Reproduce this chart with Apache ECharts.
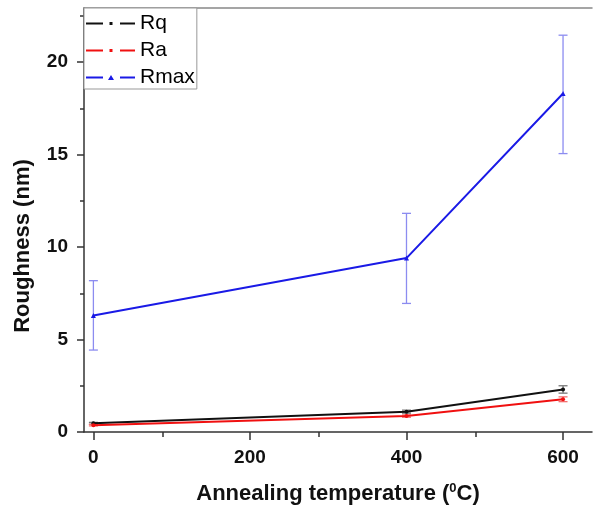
<!DOCTYPE html>
<html>
<head>
<meta charset="utf-8">
<script src="https://cdn.jsdelivr.net/npm/echarts@6/dist/echarts.min.js"></script>
<style>
html, body { margin: 0; padding: 0; background: #fff; }
#chart { width: 593px; height: 511px; }
</style>
</head>
<body>
<div id="chart"></div>
<script>
// data
var temps = [0, 400, 600];
var rq = [0.47, 1.1, 2.3];
var rqErr = [0.05, 0.08, 0.2];
var ra = [0.37, 0.86, 1.77];
var raErr = [0.04, 0.06, 0.13];
var rmax = [6.3, 9.4, 18.3];
var rmaxLow = [4.43, 6.95, 15.05];
var rmaxHigh = [8.18, 11.82, 21.45];
var xTicks = [0, 200, 400, 600];
var yTicks = [0, 5, 10, 15, 20];

var FONT = 'Liberation Sans, Arial, sans-serif';
// dash - dot - dash legend icons (invisible corner moves keep the box at 49x8)
var iconDot = 'path://M0,0M49,8M0,3h17v2H0z M23.5,2.5h3v3h-3z M34,3h15v2H34z';
var iconTri = 'path://M0,0M49,8M0,3h17v2H0z M25,1.5L28,6.5H22z M34,3h15v2H34z';

function pairs(xs, ys){
	var out = [];
	for (var i = 0; i < xs.length; i++) out.push([xs[i], ys[i]]);
	return out;
}

function errData(xs, lo, hi){
	var out = [];
	for (var i = 0; i < xs.length; i++) out.push([xs[i], lo[i], hi[i]]);
	return out;
}

function symLow(ys, e){ return ys.map(function(v, i){ return v - e[i]; }); }
function symHigh(ys, e){ return ys.map(function(v, i){ return v + e[i]; }); }

function errorSeries(name, data, color){
	return {
		name: name,
		type: 'custom',
		silent: true,
		z: 1,
		data: data,
		encode: { x: 0, y: [1, 2] },
		renderItem: function(params, api){
			var x = api.value(0);
			var lo = api.coord([x, api.value(1)]);
			var hi = api.coord([x, api.value(2)]);
			var w = 4.5;
			var st = { stroke: color, lineWidth: 1.3 };
			return {
				type: 'group',
				children: [
					{ type: 'line', shape: { x1: lo[0], y1: lo[1], x2: hi[0], y2: hi[1] }, style: st },
					{ type: 'line', shape: { x1: lo[0] - w, y1: lo[1], x2: lo[0] + w, y2: lo[1] }, style: st },
					{ type: 'line', shape: { x1: hi[0] - w, y1: hi[1], x2: hi[0] + w, y2: hi[1] }, style: st }
				]
			};
		}
	};
}

var chart = echarts.init(document.getElementById('chart'));
var option = {
	animation: false,
	textStyle: { fontFamily: FONT },
	grid: { left: 84, right: 1, top: 8, bottom: 79 },
	legend: {
		orient: 'vertical',
		left: 84,
		top: 8,
		data: [
			{ name: 'Rq', icon: iconDot },
			{ name: 'Ra', icon: iconDot },
			{ name: 'Rmax', icon: iconTri }
		],
		itemWidth: 49,
		itemHeight: 8,
		itemGap: 6,
		padding: [5, 2, 1, 2],
		borderColor: '#999',
		borderWidth: 1,
		borderRadius: 0,
		backgroundColor: '#fff',
		textStyle: { fontSize: 21, lineHeight: 20, color: '#000', fontFamily: FONT }
	},
	xAxis: [
		{
			type: 'value',
			min: -12,
			max: 637,
			interval: 200,
			splitLine: { show: false },
			axisLine: { onZero: false, lineStyle: { color: '#333', width: 1.5 } },
			axisTick: { length: 8, lineStyle: { color: '#333', width: 1.5 }, customValues: xTicks },
			minorTick: { show: true, splitNumber: 2, length: 5, lineStyle: { color: '#333', width: 1.5 } },
			axisLabel: {
				fontSize: 19, fontWeight: 'bold', color: '#111', margin: 16,
				customValues: xTicks
			},
			name: 'Annealing temperature ({sup|0}C)',
			nameLocation: 'middle',
			nameGap: 50,
			nameTextStyle: {
				fontSize: 22, fontWeight: 'bold', color: '#111',
				rich: { sup: { fontSize: 13, fontWeight: 'bold', verticalAlign: 'top', padding: [0, 0, 10, 0] } }
			}
		},
		{
			type: 'value',
			position: 'top',
			min: -12,
			max: 637,
			axisLine: { show: true, onZero: false, lineStyle: { color: '#888', width: 1.5 } },
			axisTick: { show: false },
			axisLabel: { show: false },
			splitLine: { show: false }
		}
	],
	yAxis: {
		type: 'value',
		min: 0,
		max: 22.92,
		interval: 5,
		splitLine: { show: false },
		axisLine: { show: true, onZero: false, lineStyle: { color: '#333', width: 1.5 } },
		axisTick: { show: true, length: 7, lineStyle: { color: '#333', width: 1.5 }, customValues: yTicks },
		minorTick: { show: true, splitNumber: 2, length: 4, lineStyle: { color: '#333', width: 1.5 } },
		axisLabel: { fontSize: 19, fontWeight: 'bold', color: '#111', margin: 16, customValues: yTicks },
		name: 'Roughness (nm)',
		nameLocation: 'middle',
		nameGap: 50,
		nameTextStyle: { fontSize: 22, fontWeight: 'bold', color: '#111', padding: [0, 0, 0, -52] }
	},
	series: [
		errorSeries('RqErr', errData(temps, symLow(rq, rqErr), symHigh(rq, rqErr)), '#777'),
		errorSeries('RaErr', errData(temps, symLow(ra, raErr), symHigh(ra, raErr)), '#f37070'),
		errorSeries('RmaxErr', errData(temps, rmaxLow, rmaxHigh), '#8c8cf0'),
		{
			name: 'Rq', type: 'line', data: pairs(temps, rq), z: 3,
			symbol: 'circle', symbolSize: 4,
			lineStyle: { color: '#111', width: 2 },
			itemStyle: { color: '#111' }
		},
		{
			name: 'Ra', type: 'line', data: pairs(temps, ra), z: 3,
			symbol: 'circle', symbolSize: 4,
			lineStyle: { color: '#f01010', width: 2 },
			itemStyle: { color: '#f01010' }
		},
		{
			name: 'Rmax', type: 'line', data: pairs(temps, rmax), z: 3,
			symbol: 'triangle', symbolSize: 5,
			lineStyle: { color: '#1a1ae6', width: 2 },
			itemStyle: { color: '#1a1ae6' }
		}
	]
};
chart.setOption(option);
</script>
</body>
</html>
